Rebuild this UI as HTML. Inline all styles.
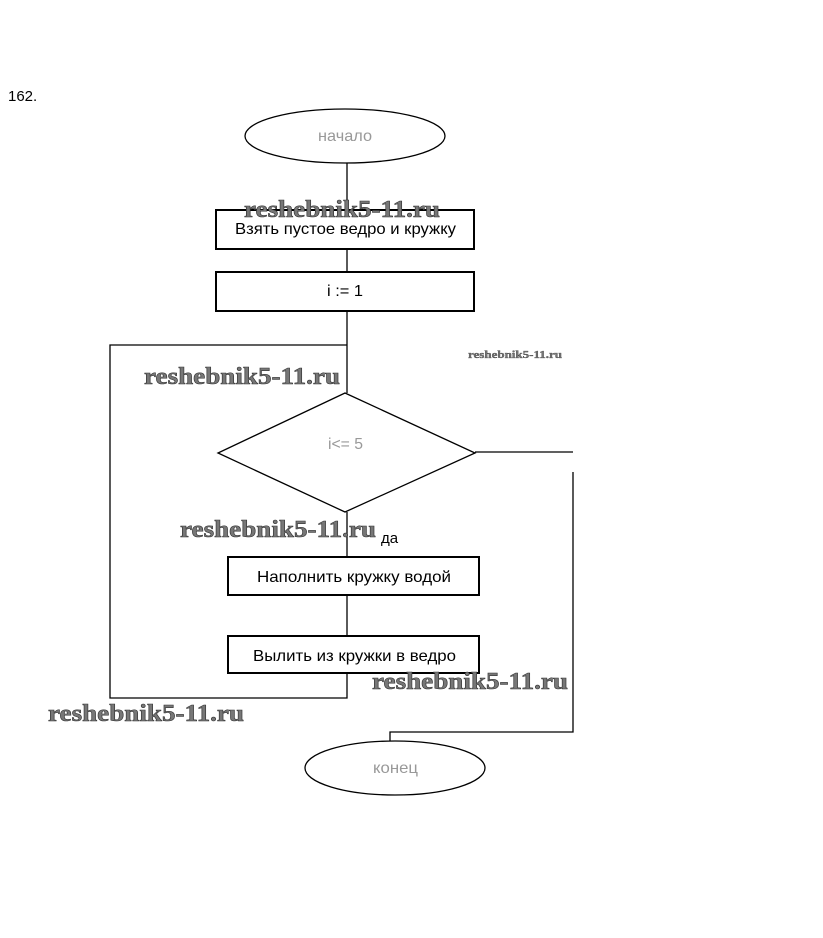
<!DOCTYPE html>
<html><head><meta charset="utf-8"><style>
body{margin:0;background:#fff;width:823px;height:933px;overflow:hidden}
</style></head><body>
<svg width="823" height="933" xmlns="http://www.w3.org/2000/svg" font-family="Liberation Sans, DejaVu Sans, sans-serif">
<rect width="823" height="933" fill="#fff"/>
<text x="8" y="101" font-size="15" fill="#000">162.</text>
<g stroke="#000" stroke-width="1.3" fill="none">
<ellipse cx="345" cy="136" rx="100" ry="27"/>
<line x1="347" y1="163" x2="347" y2="210"/>
<rect x="216" y="210" width="258" height="39" stroke-width="2"/>
<line x1="347" y1="249" x2="347" y2="272"/>
<rect x="216" y="272" width="258" height="39" stroke-width="2"/>
<line x1="347" y1="311" x2="347" y2="393"/>
<polyline points="347,345 110,345 110,698 347,698 347,673"/>
<polygon points="345,393 475,453 345,512 218,453"/>
<line x1="347" y1="512" x2="347" y2="557"/>
<rect x="228" y="557" width="251" height="38" stroke-width="2"/>
<line x1="347" y1="595" x2="347" y2="636"/>
<rect x="228" y="636" width="251" height="37" stroke-width="2"/>
<polyline points="475,452 573,452"/>
<polyline points="573,472 573,732 390,732 390,741"/>
<ellipse cx="395" cy="768" rx="90" ry="27"/>
</g>
<g font-size="16" fill="#000">
<text x="318" y="141" fill="#999" textLength="54" lengthAdjust="spacingAndGlyphs">начало</text>
<text x="235" y="234" textLength="221" lengthAdjust="spacingAndGlyphs">Взять пустое ведро и кружку</text>
<text x="327" y="296" textLength="36" lengthAdjust="spacingAndGlyphs">i := 1</text>
<text x="328" y="449" fill="#999" textLength="35" lengthAdjust="spacingAndGlyphs">i&lt;= 5</text>
<text x="257" y="582" textLength="194" lengthAdjust="spacingAndGlyphs">Наполнить кружку водой</text>
<text x="253" y="661" textLength="203" lengthAdjust="spacingAndGlyphs">Вылить из кружки в ведро</text>
<text x="373" y="773" fill="#999" textLength="45" lengthAdjust="spacingAndGlyphs">конец</text>
<text x="381" y="543" font-size="15">да</text>
</g>
<g font-family="Liberation Serif, DejaVu Serif, serif" font-weight="bold" fill="#777" stroke="#333" stroke-width="0.6" font-size="24">
<text x="244" y="217" textLength="196" lengthAdjust="spacingAndGlyphs">reshebnik5-11.ru</text>
<text x="144" y="384" textLength="196" lengthAdjust="spacingAndGlyphs">reshebnik5-11.ru</text>
<text x="180" y="537" textLength="196" lengthAdjust="spacingAndGlyphs">reshebnik5-11.ru</text>
<text x="372" y="689" textLength="196" lengthAdjust="spacingAndGlyphs">reshebnik5-11.ru</text>
<text x="48" y="721" textLength="196" lengthAdjust="spacingAndGlyphs">reshebnik5-11.ru</text>
<text x="468" y="358" font-size="11" stroke-width="0.3" textLength="94" lengthAdjust="spacingAndGlyphs">reshebnik5-11.ru</text>
</g>
</svg>
</body></html>
